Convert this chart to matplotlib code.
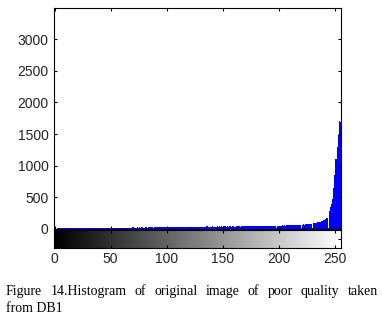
import matplotlib
matplotlib.use("Agg")
import matplotlib.pyplot as plt
import numpy as np

# grey levels and pixel counts
levels = np.arange(256)
counts = [
    8, 10, 7, 11, 9, 12, 8, 10, 11, 9, 12, 10, 11, 12, 9, 12,
    11, 13, 10, 12, 14, 11, 13, 12, 14, 11, 13, 15, 12, 14, 13, 15,
    14, 12, 15, 13, 16, 14, 12, 15, 17, 14, 16, 13, 15, 17, 14, 16,
    15, 17, 14, 18, 16, 15, 19, 17, 16, 18, 20, 17, 19, 18, 16, 20,
    19, 21, 18, 20, 22, 19, 24, 21, 23, 20, 25, 22, 24, 21, 26, 23,
    22, 25, 27, 23, 26, 24, 28, 25, 23, 27, 29, 26, 24, 28, 30, 27,
    30, 33, 29, 34, 31, 35, 30, 33, 36, 31, 34, 30, 35, 33, 31, 34,
    33, 35, 31, 36, 34, 32, 37, 35, 33, 36, 38, 34, 32, 37, 36, 33,
    36, 38, 34, 37, 39, 35, 38, 34, 40, 37, 39, 35, 38, 41, 37, 39,
    38, 40, 36, 41, 39, 42, 37, 40, 43, 39, 41, 37, 42, 40, 38, 43,
    41, 39, 43, 40, 44, 41, 38, 42, 45, 41, 43, 40, 44, 42, 46, 43,
    42, 45, 43, 47, 44, 46, 43, 48, 45, 47, 44, 49, 46, 48, 45, 50,
    48, 51, 47, 53, 49, 52, 10, 54, 50, 55, 52, 56, 53, 58, 55, 57,
    59, 56, 61, 58, 63, 60, 65, 62, 67, 64, 69, 66, 12, 70, 74, 71,
    76, 73, 79, 77, 83, 81, 15, 88, 93, 90, 98, 104, 110, 116, 123, 131,
    140, 148, 158, 170, 8, 280, 340, 400, 480, 650, 850, 1100, 1300, 1490, 1700, 1690,
]
yticks = [0, 500, 1000, 1500, 2000, 2500, 3000]
xticks = [0, 50, 100, 150, 200, 250]
caption1 = "Figure 14.Histogram of original image of poor quality taken"
caption2 = "from DB1"

plt.rcParams['font.family'] = ['Liberation Sans', 'DejaVu Sans']
plt.rcParams['font.size'] = 10

fig = plt.figure(figsize=(3.82, 3.24), dpi=100)

# histogram axes
ax = fig.add_axes([54/382, 1-229/324, 287/382, 221/324])
ax.bar(levels, counts, width=1.0, color='#0000ff', edgecolor='none')
ax.set_xlim(-0.5, 255.5)
ax.set_ylim(0, 3490)
ax.set_yticks(yticks)
ax.set_xticks(xticks)
ax.set_xticklabels([])
ax.tick_params(direction='in', length=2.5, width=0.8, top=True, right=True,
               pad=4, labelcolor='#222222')
for s in ax.spines.values():
    s.set_linewidth(0.8)

# grey level bar underneath
cax = fig.add_axes([54/382, 1-248/324, 287/382, 18/324])
grad = np.linspace(0, 1, 256)[None, :]
cax.imshow(grad, cmap='gray', aspect='auto', extent=[-0.5, 255.5, 0, 1])
cax.set_xlim(-0.5, 255.5)
cax.set_ylim(0, 1)
cax.set_xticks(xticks)
cax.set_yticks([0.5])
cax.set_yticklabels([])
cax.tick_params(direction='in', length=2.5, width=0.8, top=True, right=True,
                left=False, pad=3, labelcolor='#222222')
for s in cax.spines.values():
    s.set_linewidth(0.8)

# caption, first line justified to the page width
cap_kw = dict(family=['Liberation Serif', 'DejaVu Serif'], fontsize=10, va='baseline')
words = caption1.split()
fig.canvas.draw()
r = fig.canvas.get_renderer()
x0, x1 = 6, 378
texts = [fig.text(0, 0, w, **cap_kw) for w in words]
widths = [t.get_window_extent(r).width for t in texts]
gap = (x1 - x0 - sum(widths)) / (len(words) - 1)
x = x0
for t, w in zip(texts, widths):
    t.set_position((x/382, 1-295/324))
    x += w + gap
fig.text(x0/382, 1-312/324, caption2, **cap_kw)

fig.savefig("out.png", dpi=100)
